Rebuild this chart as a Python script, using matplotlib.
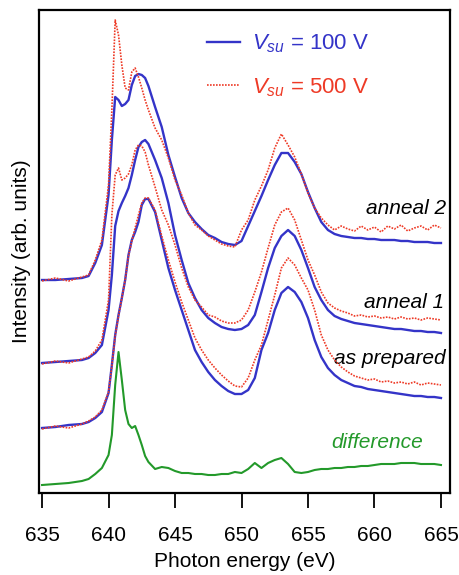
import matplotlib
matplotlib.use("Agg")
import matplotlib.pyplot as plt

plt.rcParams['font.family'] = ['Liberation Sans', 'DejaVu Sans']
plt.rcParams['mathtext.fontset'] = 'custom'
plt.rcParams['mathtext.it'] = 'Liberation Sans:italic'
plt.rcParams['mathtext.rm'] = 'Liberation Sans'

energy = [635, 636, 637, 638, 638.5, 639, 639.5,
          640, 640.25, 640.5, 640.75, 641, 641.25, 641.5, 641.75, 642, 642.25, 642.5, 642.75, 643,
          643.5, 644, 644.5, 645, 645.5, 646, 646.5, 647, 647.5, 648, 648.5, 649, 649.5, 650,
          650.5, 651, 651.5, 652, 652.5, 653, 653.5, 654, 654.5, 655, 655.5, 656, 656.5, 657,
          657.5, 658, 658.5, 659, 659.5, 660, 660.5, 661, 661.5, 662, 662.5, 663, 663.5, 664,
          664.5, 665]

anneal2_100 = [213, 213, 214, 215, 217, 230, 248,
               298, 353, 396, 393, 387, 389, 393, 408, 417, 419, 418, 415, 407,
               386, 366, 338, 316, 295, 280, 271, 264, 258, 255, 251, 249, 248, 252,
               267, 282, 297, 313, 328, 340, 340, 331, 319, 301, 285, 271, 263, 259,
               257, 256, 255, 255, 254, 254, 253, 253, 253, 252, 252, 251, 251, 251,
               250, 250]
anneal2_500 = [212, 215, 212, 216, 218, 233, 253,
               308, 383, 473, 458, 428, 405, 403, 421, 425, 416, 405, 393, 383,
               365, 353, 335, 313, 298, 280, 268, 263, 257, 253, 249, 247, 246, 263,
               273, 293, 307, 323, 345, 359, 348, 336, 319, 300, 285, 275, 268, 263,
               267, 264, 262, 267, 263, 266, 261, 267, 264, 268, 262, 265, 267, 263,
               268, 265]
anneal1_100 = [130, 131, 132, 133, 135, 140, 148,
               183, 218, 267, 282, 290, 297, 305, 318, 333, 346, 351, 353, 349,
               333, 315, 290, 258, 233, 210, 195, 183, 175, 170, 166, 164, 163, 164,
               168, 178, 201, 225, 245, 257, 263, 257, 243, 225, 206, 193, 183, 177,
               174, 172, 170, 169, 168, 167, 166, 165, 164, 164, 163, 162, 162, 161,
               161, 160]
anneal1_500 = [129, 132, 130, 134, 136, 142, 153,
               193, 278, 318, 325, 313, 315, 319, 328, 343, 348, 347, 341, 328,
               306, 283, 268, 248, 225, 206, 193, 186, 178, 176, 172, 170, 170, 173,
               183, 201, 221, 245, 268, 281, 285, 273, 253, 233, 218, 201, 190, 185,
               182, 180, 177, 178, 176, 177, 175, 176, 174, 176, 174, 175, 173, 175,
               174, 173]
prepared_100 = [65, 66, 68, 69, 71, 75, 81,
                100, 128, 158, 178, 195, 213, 238, 253, 261, 271, 288, 294, 294,
                281, 253, 225, 203, 183, 163, 143, 131, 121, 113, 107, 102, 99, 99,
                103, 115, 143, 160, 183, 200, 206, 201, 191, 175, 153, 136, 125, 118,
                113, 110, 107, 106, 104, 103, 102, 101, 100, 99, 98, 97, 97, 96,
                96, 95]
prepared_500 = [64, 67, 65, 69, 72, 76, 83,
                101, 127, 157, 177, 195, 213, 237, 252, 265, 278, 290, 295, 295,
                283, 257, 233, 211, 191, 173, 155, 143, 133, 125, 118, 112, 107, 106,
                115, 133, 148, 173, 198, 225, 235, 228, 215, 203, 183, 158, 143, 133,
                126, 121, 117, 115, 113, 114, 111, 112, 110, 111, 109, 111, 108, 110,
                109, 108]
difference = [8, 9, 10, 12, 14, 19, 25,
              38, 58, 108, 141, 113, 83, 69, 65, 67, 58, 48, 37, 31,
              24, 26, 25, 22, 20, 20, 19, 19, 18, 18, 19, 19, 21, 20,
              24, 30, 25, 30, 33, 35, 29, 21, 20, 21, 23, 24, 24, 25,
              25, 26, 26, 27, 27, 28, 29, 29, 29, 30, 30, 30, 29, 29,
              29, 28]

xticks = [635, 640, 645, 650, 655, 660, 665]
labels = ["anneal 2", "anneal 1", "as prepared"]
legend_labels = ["$V_{su}$ = 100 V", "$V_{su}$ = 500 V"]

BLUE = "#3434c8"
RED = "#ee3a26"
GREEN = "#23992a"

fig = plt.figure(figsize=(4.6, 5.75), dpi=100)
ax = fig.add_axes([39/460, 1-493/575, 411/460, 483/575])

lb = None
lr = None
for b, r in [(anneal2_100, anneal2_500), (anneal1_100, anneal1_500), (prepared_100, prepared_500)]:
    lb, = ax.plot(energy, b, color=BLUE, lw=1.7, zorder=3)
    lr, = ax.plot(energy, r, color=RED, lw=1.2, ls=(0, (1, 0.8)), zorder=4)
ax.plot(energy, difference, color=GREEN, lw=1.5, zorder=3)

ax.set_xlim(634.77, 665.68)
ax.set_ylim(0, 483)
ax.set_yticks([])
ax.set_xticks(xticks)
ax.tick_params(axis='x', direction='out', length=10.5, width=1.3, pad=13, labelsize=15)
for s in ax.spines.values():
    s.set_linewidth(1.6)

ax.set_xlabel("Photon energy (eV)", fontsize=15, labelpad=5)
ax.set_ylabel("Intensity (arb. units)", fontsize=15, labelpad=6)

leg = ax.legend([lb, lr], legend_labels, loc='upper left', bbox_to_anchor=(0.409, 0.953),
                frameon=False, fontsize=16, handlelength=1.5, handletextpad=0.5,
                labelspacing=0.93, borderpad=0, borderaxespad=0)
for t, c in zip(leg.get_texts(), [BLUE, RED]):
    t.set_color(c)

ax.text(0.99, (493-209)/483, labels[0], transform=ax.transAxes, ha='right', va='center',
        fontsize=15, style='italic', color='black')
ax.text(0.985, (493-302)/483, labels[1], transform=ax.transAxes, ha='right', va='center',
        fontsize=15, style='italic', color='black')
ax.text(0.99, (493-358)/483, labels[2], transform=ax.transAxes, ha='right', va='center',
        fontsize=15, style='italic', color='black')
ax.text(0.934, (493-443)/483, "difference", transform=ax.transAxes, ha='right', va='center',
        fontsize=15, style='italic', color=GREEN)

fig.savefig("out.png", dpi=100)
